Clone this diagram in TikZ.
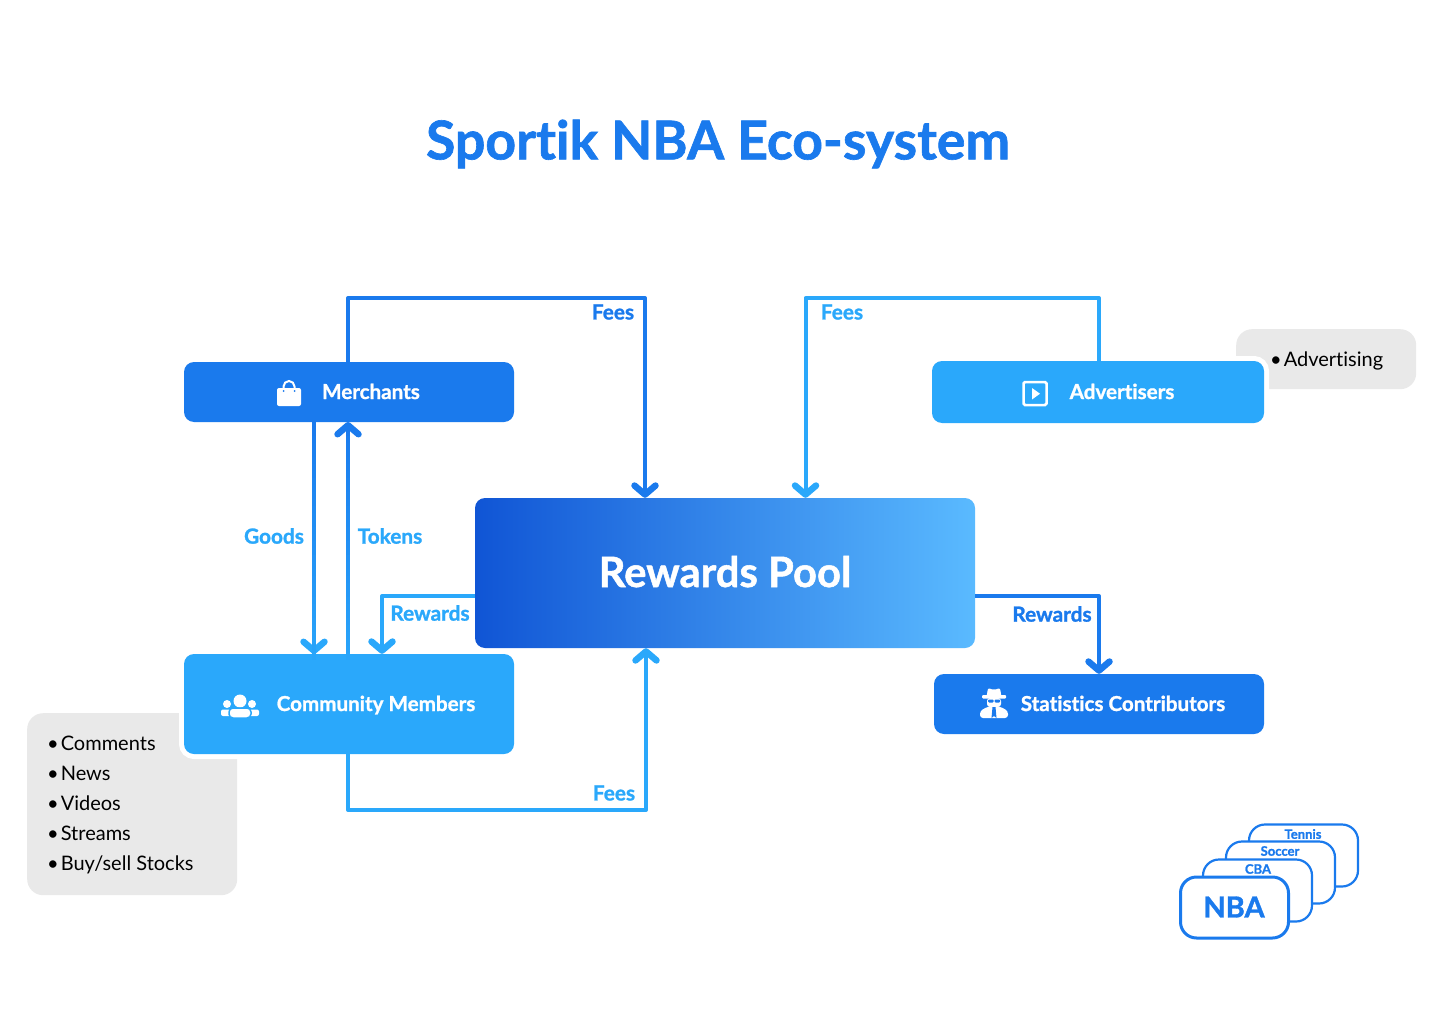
\documentclass[tikz,border=0pt]{standalone}
\usepackage{fontspec}
\setmainfont{Lato}[Ligatures=NoCommon,BoldFeatures={FakeBold=1.2}]
\usetikzlibrary{arrows.meta}
\definecolor{deepblue}{HTML}{1A7AED}
\definecolor{skyblue}{HTML}{2AA8FB}
\definecolor{panelgrey}{HTML}{E9E9E9}
\definecolor{poolleft}{HTML}{1055D5}
\definecolor{poolright}{HTML}{5ABAFF}
\tikzset{
    box/.style={rectangle,rounded corners=10pt,text=white,text height=19pt,text depth=5pt,font=\fontsize{20.6}{24}\selectfont\bfseries,preaction={draw=white,line width=10pt}},
    panel/.style={rectangle,rounded corners=16pt,fill=panelgrey,anchor=north west,inner sep=0pt},
    listtext/.style={anchor=west,align=left,inner sep=0pt,font=\fontsize{20}{30}\selectfont},
    tag/.style={font=\fontsize{20.8}{24}\selectfont\bfseries},
    flow/.style={line width=4pt,line join=round,-{Straight Barb[length=9pt,width=21pt,line width=6.5pt,round]}},
    sheet/.style={rectangle,rounded corners=16pt,draw=deepblue,fill=white,line width=2.2pt,minimum width=109pt,minimum height=62pt,anchor=north west,inner sep=0pt,outer sep=0pt},
    sheetname/.style={text=deepblue,font=\fontsize{13}{15}\selectfont\bfseries,inner sep=0pt}
}
\begin{document}
\begin{tikzpicture}[x=1pt,y=-1pt]
    \useasboundingbox[fill=white] (0,0) rectangle (1440,1024);
    \node[text=deepblue,font=\fontsize{53.5}{60}\selectfont\bfseries] (title) at (718,144) {Sportik NBA Eco-system};

    \node[panel,minimum width=210pt,minimum height=182pt] (items) at (27,713) {};
    \node[panel,minimum width=180pt,minimum height=60pt] (adpanel) at (1236,329) {};
    \node[listtext] (itemstext) at (47,805) {\textbullet\hspace{2pt}Comments\\\textbullet\hspace{2pt}News\\\textbullet\hspace{2pt}Videos\\\textbullet\hspace{2pt}Streams\\\textbullet\hspace{2pt}Buy/sell Stocks};
    \node[listtext] (adtext) at (1270,361) {\textbullet\hspace{2pt}Advertising};

    \begin{scope}[every node/.append style={box}]
        \node[fill=deepblue,minimum width=330pt,minimum height=60pt] (merchants) at (349,392) {\hspace{44pt}Merchants};
        \node[fill=skyblue,minimum width=332pt,minimum height=62pt] (advertisers) at (1098,392) {\hspace{48pt}Advertisers};
        \node[fill=skyblue,minimum width=330pt,minimum height=100pt] (community) at (349,704) {\hspace{54pt}Community Members};
        \node[fill=deepblue,minimum width=330pt,minimum height=60pt] (contributors) at (1099,704) {\hspace{48pt}Statistics Contributors};
        \node[left color=poolleft,right color=poolright,minimum width=500pt,minimum height=150pt,text height=38pt,text depth=10pt,font=\fontsize{41.8}{48}\selectfont\bfseries,preaction={}] (pool) at (725,573) {Rewards Pool};
    \end{scope}

    \coordinate (feesM) at (645,298);
    \coordinate (feesA) at (805.5,298);
    \coordinate (feesC) at (646,810);
    \coordinate (rewardC) at (382,596);
    \coordinate (rewardS) at (1099,596);
    \coordinate (goodsTop) at (314,422);
    \coordinate (goodsBot) at (314,654);
    \coordinate (tokensTop) at (348,422);
    \coordinate (tokensBot) at (348,654);

    \begin{scope}[every path/.append style={flow}]
        \draw[deepblue] ([xshift=-1pt]merchants.north) |- (feesM) -- (feesM |- pool.north);
        \draw[skyblue] ([xshift=1pt]advertisers.north) |- (feesA) -- (feesA |- pool.north);
        \draw[skyblue] ([xshift=-1pt]community.south) |- (feesC) -- (feesC |- pool.south);
        \draw[skyblue] (rewardC -| pool.west) -- (rewardC) -- (rewardC |- community.north);
        \draw[deepblue] (rewardS -| pool.east) -- (rewardS) -- (rewardS |- contributors.north);
        \draw[skyblue] (goodsTop) -- (goodsBot);
        \draw[deepblue] (tokensBot) -- (tokensTop);
    \end{scope}

    \foreach \i in {0,...,33}{
        \pgfmathtruncatemacro{\shade}{100-\i*2.8}
        \draw[deepblue!\shade!skyblue,line width=4pt] (314,422+\i*7) -- +(0,7.4);
        \ifnum\i>1
            \draw[deepblue!\shade!skyblue,line width=4pt] (348,422+\i*7) -- +(0,7.4);
        \fi
    }

    \begin{scope}[every node/.append style={tag}]
        \node[text=deepblue] (lblfeesm) at (613,312) {Fees};
        \node[text=skyblue] (lblfeesa) at (842,312) {Fees};
        \node[text=skyblue] (lblfeesc) at (614,793) {Fees};
        \node[text=skyblue] (lblgoods) at (274,536) {Goods};
        \node[text=skyblue] (lbltokens) at (390,536) {Tokens};
        \node[text=skyblue] (lblrewardc) at (430,613) {Rewards};
        \node[text=deepblue] (lblrewards) at (1052,614) {Rewards};
    \end{scope}

    \fill[white,rounded corners=2pt] (277,388) rectangle (301,406);
    \draw[white,line width=2pt] (283.5,389) -- (283.5,386.5) arc (180:360:5.5) -- (294.5,389);
    \fill[deepblue] (283.5,391) circle (1) (294.5,391) circle (1);

    \fill[white] (227,704) circle (4) (252,704) circle (4);
    \fill[white,rounded corners=2pt] (221,716) rectangle (233,709.5) (247,716) rectangle (259,709.5);
    \fill[white] (240,701) circle (6.5);
    \draw[skyblue,fill=white,line width=1.5pt,rounded corners=4pt] (229,718) rectangle (251,708);

    \draw[white,line width=2.5pt,rounded corners=1.5pt] (1023.5,382) rectangle (1046.5,405);
    \fill[white] (1032,388) -- (1040,393.7) -- (1032,399.5) -- cycle;

    \fill[white,rounded corners=2pt] (986.5,697) -- (988,688) -- (994,690) -- (1000,688) -- (1001.5,697) -- cycle;
    \fill[white,rounded corners=1pt] (982,695) rectangle (1006,698.5);
    \fill[white,rounded corners=3pt] (987,698) rectangle (1001,707);
    \fill[deepblue,rounded corners=1pt] (988,699.5) rectangle (993.5,702.5) (994.5,699.5) rectangle (1000,702.5);
    \fill[white,rounded corners=3pt] (980,718) -- (980,711) -- (988,706.5) -- (1000,706.5) -- (1008,711) -- (1008,718) -- cycle;
    \fill[deepblue] (992.5,707) -- (995.5,707) -- (996.5,718) -- (994,716) -- (991.5,718) -- cycle;

    \begin{scope}[every node/.append style={sheet}]
        \node (tennis) at (1249,824.5) {};
        \node (soccer) at (1226,841.5) {};
        \node (cba) at (1203,859.5) {};
        \node[line width=3pt,minimum width=108pt,minimum height=61pt] (nba) at (1180.5,877) {};
    \end{scope}
    \begin{scope}[every node/.append style={sheetname}]
        \node (lbltennis) at (1303,834) {Tennis};
        \node (lblsoccer) at (1280,851) {Soccer};
        \node (lblcba) at (1258,869) {CBA};
    \end{scope}
    \node[text=deepblue,inner sep=0pt,font=\fontsize{29}{32}\selectfont\bfseries] (lblnba) at (1234,907) {NBA};
\end{tikzpicture}
\end{document}
